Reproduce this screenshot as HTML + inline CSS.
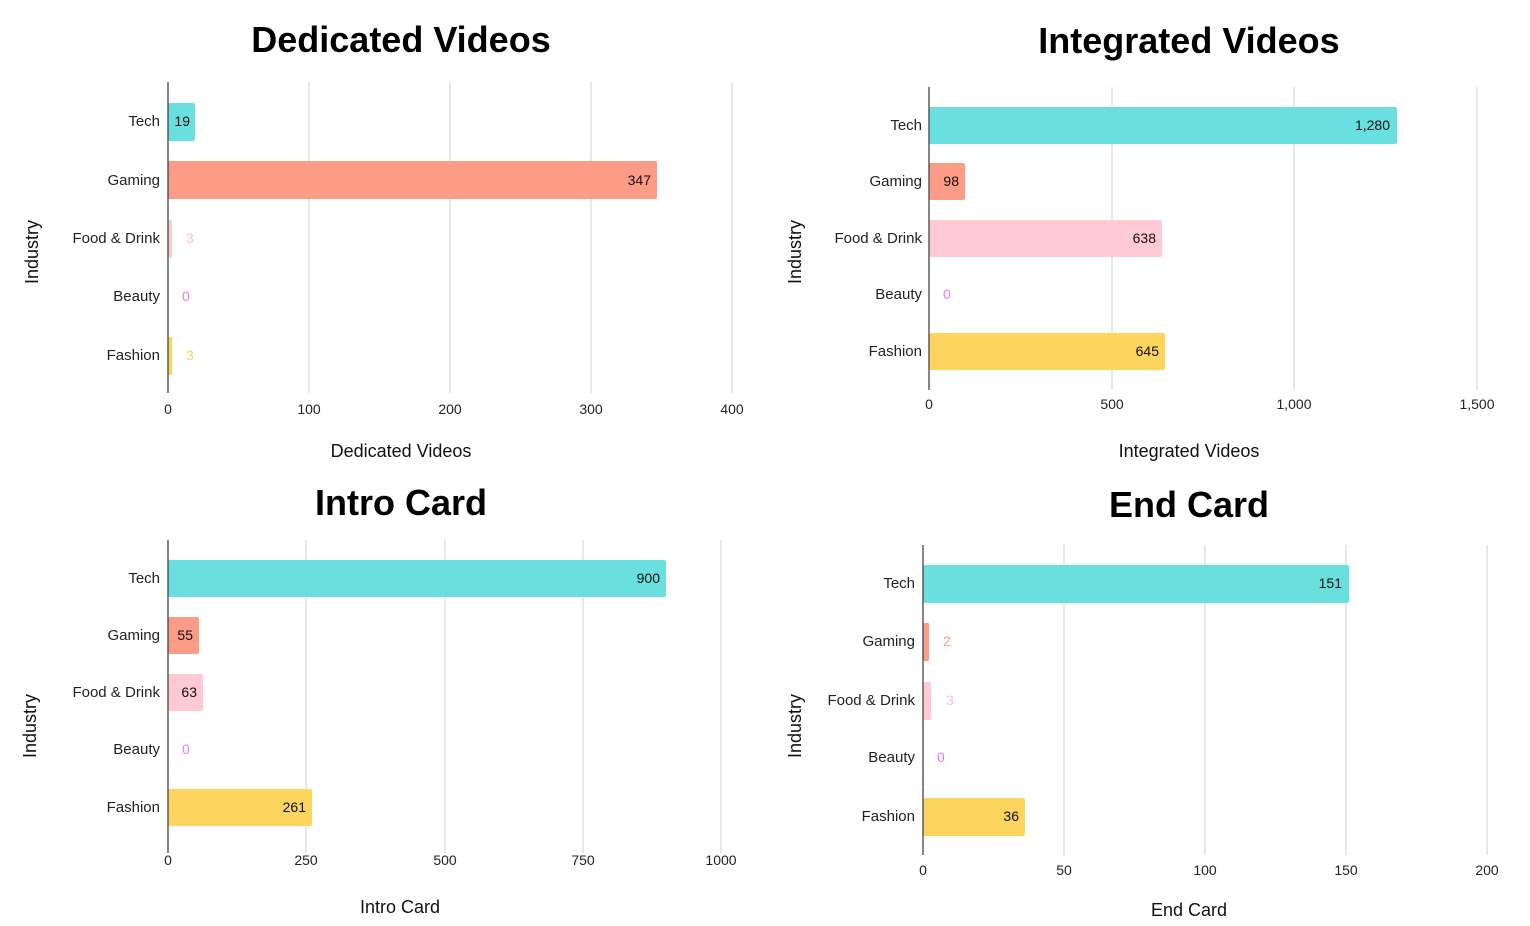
<!DOCTYPE html>
<html><head><meta charset="utf-8"><style>
body{margin:0;background:#fff;}
svg{display:block;font-family:"Liberation Sans",sans-serif;}
.t{font-weight:bold;font-size:36px;fill:#000;text-anchor:middle;}
.c{font-size:15px;fill:#222;text-anchor:end;}
.k{font-size:14px;fill:#222;text-anchor:middle;}
.a{font-size:18px;fill:#111;text-anchor:middle;}
.v{font-size:14px;fill:#111;}
.g{stroke:#d0d0d0;stroke-width:1;}
.ax{stroke:#444;stroke-width:1.3;}
</style></head><body>
<svg width="1530" height="926" viewBox="0 0 1530 926">
<!-- Chart 1 -->
<text class="t" x="401" y="52">Dedicated Videos</text>
<line class="g" x1="309" y1="82" x2="309" y2="393"/><line class="g" x1="450" y1="82" x2="450" y2="393"/><line class="g" x1="591" y1="82" x2="591" y2="393"/><line class="g" x1="732" y1="82" x2="732" y2="393"/>
<rect x="168" y="103" width="27" height="38" fill="#6ADFDF" rx="2"/>
<rect x="168" y="161" width="489" height="38" fill="#FC9C87" rx="2"/>
<rect x="168" y="220" width="4" height="38" fill="#FFCAD4" rx="1"/>
<rect x="168" y="337" width="4" height="38" fill="#FDD45E" rx="1"/>
<line class="ax" x1="168" y1="82" x2="168" y2="393"/>
<text class="v" x="190" y="126" text-anchor="end">19</text>
<text class="v" x="651" y="185" text-anchor="end">347</text>
<text class="v" x="186" y="243" style="fill:#FFC0CC">3</text>
<text class="v" x="182" y="301" style="fill:#EE77F5">0</text>
<text class="v" x="186" y="360" style="fill:#FDD45E">3</text>
<text class="c" x="160" y="126">Tech</text><text class="c" x="160" y="185">Gaming</text><text class="c" x="160" y="243">Food &amp; Drink</text><text class="c" x="160" y="301">Beauty</text><text class="c" x="160" y="360">Fashion</text>
<text class="k" x="168" y="414">0</text><text class="k" x="309" y="414">100</text><text class="k" x="450" y="414">200</text><text class="k" x="591" y="414">300</text><text class="k" x="732" y="414">400</text>
<text class="a" x="401" y="457">Dedicated Videos</text>
<text class="a" transform="translate(38,252) rotate(-90)">Industry</text>

<!-- Chart 2 -->
<text class="t" x="1189" y="53">Integrated Videos</text>
<line class="g" x1="1112" y1="87" x2="1112" y2="390"/><line class="g" x1="1294" y1="87" x2="1294" y2="390"/><line class="g" x1="1477" y1="87" x2="1477" y2="390"/>
<rect x="929" y="107" width="468" height="37" fill="#6ADFDF" rx="2"/>
<rect x="929" y="163" width="36" height="37" fill="#FC9C87" rx="2"/>
<rect x="929" y="220" width="233" height="37" fill="#FFCAD4" rx="2"/>
<rect x="929" y="333" width="236" height="37" fill="#FDD45E" rx="2"/>
<line class="ax" x1="929" y1="87" x2="929" y2="390"/>
<text class="v" x="1390" y="130" text-anchor="end">1,280</text>
<text class="v" x="959" y="186" text-anchor="end">98</text>
<text class="v" x="1156" y="243" text-anchor="end">638</text>
<text class="v" x="943" y="299" style="fill:#EE77F5">0</text>
<text class="v" x="1159" y="356" text-anchor="end">645</text>
<text class="c" x="922" y="130">Tech</text><text class="c" x="922" y="186">Gaming</text><text class="c" x="922" y="243">Food &amp; Drink</text><text class="c" x="922" y="299">Beauty</text><text class="c" x="922" y="356">Fashion</text>
<text class="k" x="929" y="409">0</text><text class="k" x="1112" y="409">500</text><text class="k" x="1294" y="409">1,000</text><text class="k" x="1477" y="409">1,500</text>
<text class="a" x="1189" y="457">Integrated Videos</text>
<text class="a" transform="translate(801,252) rotate(-90)">Industry</text>

<!-- Chart 3 -->
<text class="t" x="401" y="515">Intro Card</text>
<line class="g" x1="306" y1="540" x2="306" y2="853"/><line class="g" x1="445" y1="540" x2="445" y2="853"/><line class="g" x1="583" y1="540" x2="583" y2="853"/><line class="g" x1="721" y1="540" x2="721" y2="853"/>
<rect x="168" y="560" width="498" height="37" fill="#6ADFDF" rx="2"/>
<rect x="168" y="617" width="31" height="37" fill="#FC9C87" rx="2"/>
<rect x="168" y="674" width="35" height="37" fill="#FFCAD4" rx="2"/>
<rect x="168" y="789" width="144" height="37" fill="#FDD45E" rx="2"/>
<line class="ax" x1="168" y1="540" x2="168" y2="853"/>
<text class="v" x="660" y="583" text-anchor="end">900</text>
<text class="v" x="193" y="640" text-anchor="end">55</text>
<text class="v" x="197" y="697" text-anchor="end">63</text>
<text class="v" x="182" y="754" style="fill:#EE77F5">0</text>
<text class="v" x="306" y="812" text-anchor="end">261</text>
<text class="c" x="160" y="583">Tech</text><text class="c" x="160" y="640">Gaming</text><text class="c" x="160" y="697">Food &amp; Drink</text><text class="c" x="160" y="754">Beauty</text><text class="c" x="160" y="812">Fashion</text>
<text class="k" x="168" y="865">0</text><text class="k" x="306" y="865">250</text><text class="k" x="445" y="865">500</text><text class="k" x="583" y="865">750</text><text class="k" x="721" y="865">1000</text>
<text class="a" x="400" y="913">Intro Card</text>
<text class="a" transform="translate(36,726) rotate(-90)">Industry</text>

<!-- Chart 4 -->
<text class="t" x="1189" y="517">End Card</text>
<line class="g" x1="1064" y1="545" x2="1064" y2="855"/><line class="g" x1="1205" y1="545" x2="1205" y2="855"/><line class="g" x1="1346" y1="545" x2="1346" y2="855"/><line class="g" x1="1487" y1="545" x2="1487" y2="855"/>
<rect x="923" y="565" width="426" height="38" fill="#6ADFDF" rx="2"/>
<rect x="923" y="623" width="6" height="38" fill="#FC9C87" rx="1"/>
<rect x="923" y="682" width="8" height="38" fill="#FFCAD4" rx="1"/>
<rect x="923" y="798" width="102" height="38" fill="#FDD45E" rx="2"/>
<line class="ax" x1="923" y1="545" x2="923" y2="855"/>
<text class="v" x="1342" y="588" text-anchor="end">151</text>
<text class="v" x="943" y="646" style="fill:#FC9C87">2</text>
<text class="v" x="946" y="705" style="fill:#FFC0CC">3</text>
<text class="v" x="937" y="762" style="fill:#EE77F5">0</text>
<text class="v" x="1019" y="821" text-anchor="end">36</text>
<text class="c" x="915" y="588">Tech</text><text class="c" x="915" y="646">Gaming</text><text class="c" x="915" y="705">Food &amp; Drink</text><text class="c" x="915" y="762">Beauty</text><text class="c" x="915" y="821">Fashion</text>
<text class="k" x="923" y="875">0</text><text class="k" x="1064" y="875">50</text><text class="k" x="1205" y="875">100</text><text class="k" x="1346" y="875">150</text><text class="k" x="1487" y="875">200</text>
<text class="a" x="1189" y="916">End Card</text>
<text class="a" transform="translate(801,726) rotate(-90)">Industry</text>
</svg>
</body></html>
